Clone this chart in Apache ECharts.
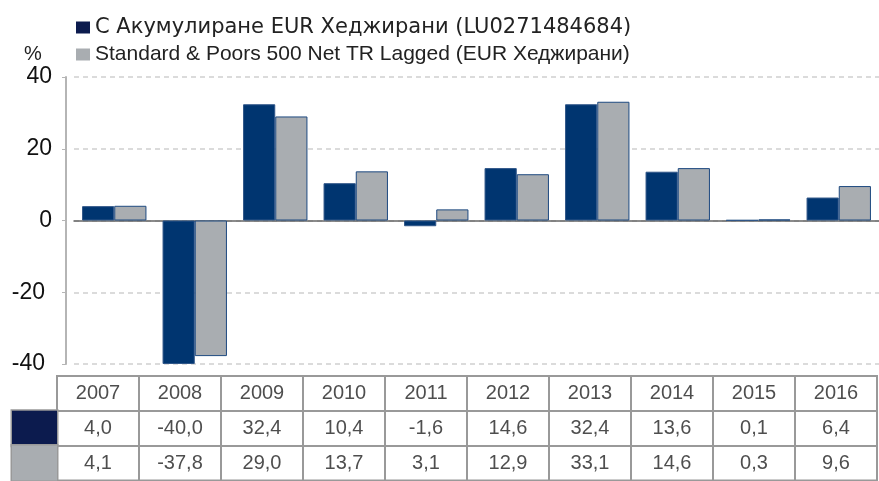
<!DOCTYPE html>
<html>
<head>
<meta charset="utf-8">
<script src="https://cdn.jsdelivr.net/npm/echarts@6/dist/echarts.min.js"></script>
<style>
  html, body { margin: 0; padding: 0; background: #fff; }
  #chart { width: 879px; height: 481px; }
</style>
</head>
<body>
<div id="chart"></div>
<script>
const years = ["2007", "2008", "2009", "2010", "2011", "2012", "2013", "2014", "2015", "2016"];
const fundValues = [4.0, -40.0, 32.4, 10.4, -1.6, 14.6, 32.4, 13.6, 0.1, 6.4];
const indexValues = [4.1, -37.8, 29.0, 13.7, 3.1, 12.9, 33.1, 14.6, 0.3, 9.6];
const seriesNames = [
  "С Акумулиране EUR Хеджирани (LU0271484684)",
  "Standard & Poors 500 Net TR Lagged (EUR Хеджирани)",
];
const tableRows = ["hdr", "fund", "idx"];

const navy = "#003570";
const navyDark = "#0c1b4e";
const grey = "#a9adb1";
const font = "Liberation Sans";

const fmt = v => v.toFixed(1).replace(".", ",");

// table cell texts, placed on the table grid's category axes
const cellData = [];
years.forEach((y, i) => {
  cellData.push([i, 0, y]);
  cellData.push([i, 1, fmt(fundValues[i])]);
  cellData.push([i, 2, fmt(indexValues[i])]);
});

const chart = echarts.init(document.getElementById("chart"), null, { renderer: "canvas" });

chart.setOption({
  animation: false,
  textStyle: { fontFamily: font },
  title: {
    text: "%",
    left: 19,
    top: 39,
    textStyle: { fontFamily: font, fontSize: 20, fontWeight: "normal", color: "#222" },
  },
  legend: {
    orient: "vertical",
    left: 71,
    top: 12,
    itemWidth: 14,
    itemHeight: 12,
    itemGap: 6,
    itemTextGap: 11,
    icon: "rect",
    itemStyle: { borderWidth: 0 },
    textStyle: { fontFamily: font, fontSize: 21, color: "#222", lineHeight: 20 },
    data: [
      { name: seriesNames[0], itemStyle: { color: navyDark }, textStyle: { fontFamily: "DejaVu Sans" } },
      { name: seriesNames[1], itemStyle: { color: grey } },
    ],
  },
  grid: [
    { left: 74, right: 0, top: 77, height: 287 },
    {
      left: 57, right: 2, top: 376, height: 111,
      show: true, borderColor: "#999", borderWidth: 2, backgroundColor: "#fff",
    },
  ],
  xAxis: [
    {
      type: "category",
      gridIndex: 0,
      data: years,
      axisLine: { onZero: true, lineStyle: { color: "#666", width: 1.5 } },
      axisTick: { show: false },
      axisLabel: { show: false },
    },
    {
      type: "category",
      gridIndex: 1,
      data: years,
      axisLine: { show: false },
      axisTick: { show: false },
      axisLabel: { show: false },
      splitLine: { show: true, lineStyle: { color: "#999", width: 2 } },
    },
  ],
  yAxis: [
    {
      type: "value",
      gridIndex: 0,
      min: -40,
      max: 40,
      interval: 20,
      offset: 8,
      axisLine: { show: true, lineStyle: { color: "#b5b5b5", width: 2 } },
      axisTick: { show: true, length: 4, lineStyle: { color: "#b5b5b5" } },
      axisLabel: {
        margin: 14,
        formatter: v => (v < 0 ? `{n|${v}}` : `{p|${v}}`),
        rich: {
          p: { fontFamily: font, fontSize: 23, color: "#111" },
          n: { fontFamily: font, fontSize: 23, color: "#111", padding: [0, 7, 0, 0] },
        },
      },
      splitLine: { show: true, lineStyle: { color: "#cfcfcf", type: [5, 4], width: 1.5 } },
    },
    {
      type: "category",
      gridIndex: 1,
      inverse: true,
      data: tableRows,
      axisLine: { show: false },
      axisTick: { show: false },
      splitLine: { show: true, lineStyle: { color: "#999", width: 2 } },
      axisLabel: {
        margin: 0,
        interval: 0,
        formatter: v => (v === "hdr" ? "" : `{${v}|}`),
        rich: {
          fund: { width: 45, height: 35, backgroundColor: navyDark, borderColor: "#999", borderWidth: 1.5 },
          idx: { width: 45, height: 35, backgroundColor: grey, borderColor: "#999", borderWidth: 1.5 },
        },
      },
    },
  ],
  series: [
    {
      name: seriesNames[0],
      type: "bar",
      xAxisIndex: 0,
      yAxisIndex: 0,
      data: fundValues,
      barGap: "0%",
      barCategoryGap: "20%",
      itemStyle: { color: navy, borderColor: "#2f5688", borderWidth: 1 },
    },
    {
      name: seriesNames[1],
      type: "bar",
      xAxisIndex: 0,
      yAxisIndex: 0,
      data: indexValues,
      barGap: "0%",
      barCategoryGap: "20%",
      itemStyle: { color: grey, borderColor: "#1e4a80", borderWidth: 1 },
    },
    {
      type: "scatter",
      xAxisIndex: 1,
      yAxisIndex: 1,
      data: cellData,
      symbolSize: 1,
      itemStyle: { color: "transparent" },
      silent: true,
      label: {
        show: true,
        position: "inside",
        formatter: p => p.data[2],
        fontFamily: font,
        fontSize: 20,
        color: "#222",
      },
    },
  ],
});
</script>
</body>
</html>
